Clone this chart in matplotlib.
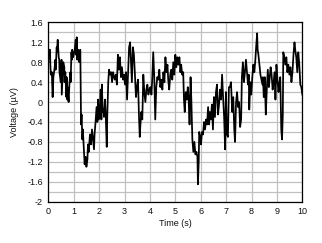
import numpy as np
import matplotlib
matplotlib.use("Agg")
import matplotlib.pyplot as plt
from matplotlib.ticker import MultipleLocator, FuncFormatter

time_s = [
    0.00, 0.01, 0.07, 0.08, 0.10, 0.14, 0.15, 0.17, 0.20, 0.24, 0.28, 0.29, 0.33, 0.34,
    0.37, 0.41, 0.43, 0.44, 0.49, 0.52, 0.53, 0.56, 0.59, 0.63, 0.64, 0.67, 0.71, 0.72,
    0.75, 0.76, 0.80, 0.83, 0.87, 0.88, 0.91, 0.93, 0.94, 0.98, 1.04, 1.08, 1.09, 1.12,
    1.14, 1.18, 1.22, 1.23, 1.26, 1.29, 1.31, 1.34, 1.36, 1.40, 1.43, 1.47, 1.50, 1.54,
    1.56, 1.59, 1.61, 1.64, 1.68, 1.72, 1.76, 1.80, 1.82, 1.86, 1.90, 1.93, 1.96, 1.98,
    2.02, 2.06, 2.09, 2.11, 2.14, 2.17, 2.19, 2.23, 2.26, 2.30, 2.32, 2.36, 2.39, 2.43,
    2.47, 2.51, 2.55, 2.59, 2.62, 2.66, 2.70, 2.74, 2.78, 2.82, 2.86, 2.90, 2.94, 2.98,
    3.02, 3.06, 3.10, 3.14, 3.18, 3.22, 3.25, 3.29, 3.33, 3.37, 3.41, 3.45, 3.49, 3.53,
    3.57, 3.60, 3.62, 3.66, 3.70, 3.74, 3.78, 3.82, 3.86, 3.90, 3.94, 3.98, 4.02, 4.06,
    4.09, 4.13, 4.17, 4.21, 4.25, 4.29, 4.33, 4.37, 4.41, 4.45, 4.49, 4.53, 4.57, 4.61,
    4.65, 4.69, 4.72, 4.76, 4.80, 4.84, 4.88, 4.92, 4.96, 5.00, 5.04, 5.08, 5.12, 5.16,
    5.20, 5.23, 5.27, 5.31, 5.34, 5.37, 5.41, 5.45, 5.49, 5.52, 5.56, 5.60, 5.63, 5.67,
    5.71, 5.75, 5.79, 5.83, 5.87, 5.89, 5.92, 5.94, 5.98, 6.01, 6.05, 6.09, 6.13, 6.17,
    6.21, 6.25, 6.29, 6.33, 6.36, 6.40, 6.44, 6.48, 6.52, 6.56, 6.60, 6.64, 6.68, 6.72,
    6.76, 6.80, 6.84, 6.88, 6.92, 6.96, 6.99, 7.03, 7.07, 7.11, 7.15, 7.19, 7.24, 7.28,
    7.32, 7.35, 7.39, 7.43, 7.47, 7.51, 7.55, 7.59, 7.62, 7.66, 7.70, 7.74, 7.78, 7.82,
    7.86, 7.89, 7.91, 7.95, 7.99, 8.03, 8.07, 8.11, 8.15, 8.18, 8.22, 8.24, 8.27, 8.31,
    8.35, 8.39, 8.43, 8.45, 8.48, 8.52, 8.56, 8.60, 8.64, 8.68, 8.71, 8.75, 8.79, 8.83,
    8.87, 8.91, 8.94, 8.98, 9.02, 9.06, 9.09, 9.13, 9.17, 9.20, 9.23, 9.25, 9.29, 9.33,
    9.37, 9.41, 9.45, 9.49, 9.53, 9.57, 9.61, 9.65, 9.69, 9.72, 9.76, 9.80, 9.84, 9.88,
    9.92, 9.96, 10.00,
]

voltage_uV = [
    0.80, 1.05, 1.05, 0.75, 0.55, 0.60, 0.40, 0.10, 0.50, 0.65, 0.85, 0.65, 1.10, 1.00,
    1.25, 0.90, 0.85, 0.60, 0.40, 0.85, 0.15, 0.50, 0.80, 0.70, 0.40, 0.60, 0.10, 0.50,
    0.05, 0.30, 0.00, 0.35, 0.60, 0.40, 1.00, 0.85, 1.05, 0.90, 1.05, 1.25, 0.95, 1.30,
    0.85, 1.05, 0.80, 1.00, 1.05, -0.45, -0.25, -0.75, -0.55, -0.95, -1.25, -1.10, -1.30, -1.15,
    -0.85, -1.00, -0.85, -0.65, -0.85, -0.55, -0.75, -0.95, -0.65, -0.40, -0.10, -0.40, 0.05, -0.35,
    -0.25, 0.25, -0.35, 0.35, -0.20, -0.15, -0.30, 0.05, -0.25, -0.90, -0.30, 0.40, 0.65, 0.55,
    0.60, 0.40, 0.60, 0.50, 0.45, 0.55, 0.35, 0.95, 0.65, 0.90, 0.50, 0.70, 0.45, 0.55,
    0.35, 0.60, 0.05, 0.55, 1.10, 1.20, 0.85, 0.40, 1.10, 0.95, 0.55, 0.10, 0.30, 0.45,
    -0.30, -0.70, -0.50, -0.20, -0.35, 0.55, 0.20, 0.00, 0.25, 0.35, 0.15, 0.25, 0.30, 0.15,
    0.45, 1.00, 0.50, -0.35, 0.30, 0.50, 0.45, 0.65, 0.30, 0.45, 0.25, 0.60, 0.40, 0.90,
    0.60, 0.75, 0.45, 0.25, 0.55, 0.65, 0.45, 0.80, 0.55, 0.95, 0.70, 0.90, 0.75, 0.90,
    0.60, 0.75, 0.55, 0.60, 0.05, -0.20, 0.20, 0.05, 0.30, 0.10, -0.45, 0.50, 0.05, -0.75,
    -1.00, -0.80, -1.05, -1.00, -1.10, -1.65, -1.20, -0.60, -0.70, -0.85, -0.60, -0.65, -0.40, -0.55,
    -0.35, -0.45, -0.10, -0.45, -0.20, -0.35, -0.05, -0.55, 0.10, -0.30, 0.20, 0.35, -0.25, -0.05,
    0.25, 0.05, 0.55, 0.10, -0.30, -0.95, 0.20, -0.65, -0.70, 0.30, 0.30, 0.40, -0.20, 0.10,
    -0.55, -0.80, 0.00, 0.20, -0.10, 0.00, -0.50, -0.35, 0.50, 0.80, 0.40, 0.60, 0.85, 0.60,
    0.35, 0.55, -0.15, 0.40, 0.15, 0.50, 0.75, 0.60, 0.85, 1.10, 1.38, 1.05, 0.95, 0.75,
    0.55, 0.45, 0.35, 0.50, 0.10, 0.50, -0.25, 0.25, 0.65, 0.30, 0.45, 0.70, 0.55, 0.25,
    0.40, 0.60, 0.05, 0.75, 0.45, 0.20, 0.35, 0.50, -0.55, -0.75, -0.25, 1.00, 0.90, 0.75,
    0.90, 0.60, 0.75, 0.55, 0.70, 0.40, 0.60, 0.95, 1.20, 1.05, 0.90, 0.60, 1.00, 0.75,
    0.35, 0.30, 0.15,
]

x_label = "Time (s)"
y_label = "Voltage (µV)"

plt.rcParams['font.family'] = ['Liberation Sans', 'DejaVu Sans']

fig = plt.figure(figsize=(3.22, 2.43), dpi=100)
ax = fig.add_axes([0.150, 0.170, 0.789, 0.738])

ax.plot(time_s, voltage_uV, color='black', linewidth=1.25, zorder=3)

ax.set_xlim(0, 10)
ax.set_ylim(-2, 1.6)
ax.xaxis.set_major_locator(MultipleLocator(1))
ax.yaxis.set_major_locator(MultipleLocator(0.4))
ax.yaxis.set_minor_locator(MultipleLocator(0.2))
ax.yaxis.set_major_formatter(FuncFormatter(lambda v, p: f"{round(v, 2):g}"))
ax.grid(True, which='major', color='#c0c0c0', linewidth=0.9)
ax.grid(True, which='minor', axis='y', color='#c0c0c0', linewidth=0.9)
ax.set_axisbelow(True)
ax.tick_params(which='both', length=0, labelsize=6.5, colors='#111111')
ax.tick_params(axis='x', pad=4)
ax.tick_params(axis='y', pad=4)
for s in ax.spines.values():
    s.set_color('black')
    s.set_linewidth(0.9)

ax.set_xlabel(x_label, fontsize=6.5, color='#111111', labelpad=2)
ax.set_ylabel(y_label, fontsize=6.5, color='#111111', labelpad=6)

fig.savefig("out.png", dpi=100)
